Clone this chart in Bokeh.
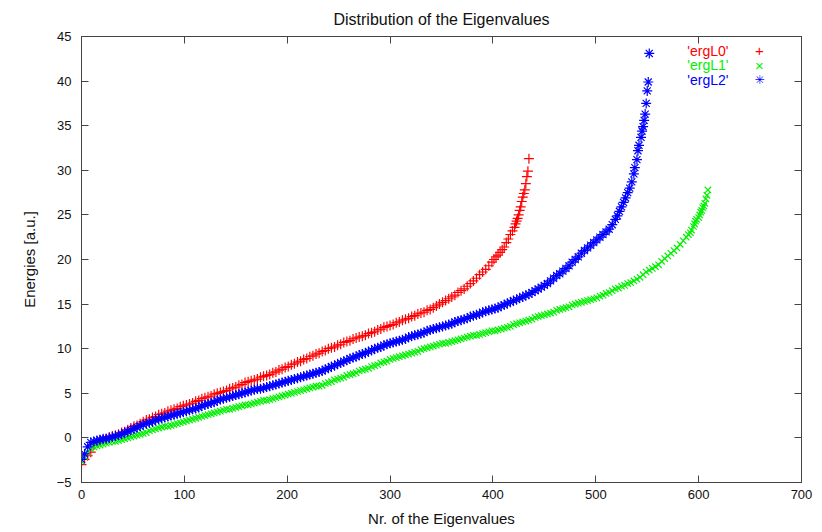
from bokeh.plotting import figure
from bokeh.models import Range1d, LinearAxis, FixedTicker, Label, CustomJSTickFormatter
from bokeh.embed import file_html
from bokeh.resources import INLINE

# ---------------- data ----------------
title_text = "Distribution of the Eigenvalues"
x_label = "Nr. of the Eigenvalues"
y_label = "Energies [a.u.]"
series_names = ["'ergL0'", "'ergL1'", "'ergL2'"]
key_symbols = ["+", "\u00d7", "\u2733"]
x_ticks = [0, 100, 200, 300, 400, 500, 600, 700]
y_ticks = [-5, 0, 5, 10, 15, 20, 25, 30, 35, 40, 45]

# eigenvalue numbers sampled along the smooth part (shared by all three sets)
idx_common = [0, 3, 6, 9, 12, 15, 18, 21, 24, 27,
              30, 33, 36, 39, 42, 45, 48, 51, 54, 57,
              60, 63, 66, 69, 72, 75, 78, 81, 84, 87,
              90, 93, 96, 99, 102, 105, 108, 111, 114, 117,
              120, 123, 126, 129, 132, 135, 138, 141, 144, 147,
              150, 153, 156, 159, 162, 165, 168, 171, 174, 177,
              180, 183, 186, 189, 192, 195, 198, 201, 204, 207,
              210, 213, 216, 219, 222, 225, 228, 231, 234, 237,
              240, 243, 246, 249, 252, 255, 258, 261, 264, 267,
              270, 273, 276, 279, 282, 285, 288, 291, 294, 297,
              300, 303, 306, 309, 312, 315, 318, 321, 324, 327,
              330, 333, 336, 339, 342, 345, 348, 351, 354, 357,
              360, 363, 366, 369, 372, 375, 378, 381, 384, 387,
              390, 393, 396, 399]
idx_mid = [402, 405, 408, 411, 414, 417, 420, 423, 426, 429,
           432, 435, 438, 441, 444, 447, 450, 453, 456, 459,
           462, 465, 468, 471, 474, 477, 480, 483, 486, 489,
           492, 495, 498, 501, 504, 507, 510, 513, 516, 519]
idx_late = [522, 525, 528, 531, 534, 537, 540, 543, 546, 549,
            552, 555, 558, 561, 564, 567, 570, 573, 576, 579,
            582, 585, 588]

# ergL0 (red)
l0_common = [-3.0, -2.4, -2.0, -1.6, -0.8, -0.5, -0.3, -0.2, -0.1, 0.1,
             0.2, 0.3, 0.4, 0.6, 0.7, 0.9, 1.1, 1.3, 1.4, 1.6,
             1.8, 2.0, 2.1, 2.3, 2.4, 2.6, 2.7, 2.8, 3.0, 3.1,
             3.2, 3.3, 3.5, 3.6, 3.7, 3.8, 3.9, 4.1, 4.2, 4.4,
             4.5, 4.6, 4.7, 4.9, 5.0, 5.1, 5.2, 5.3, 5.5, 5.6,
             5.7, 5.9, 6.0, 6.2, 6.3, 6.4, 6.5, 6.6, 6.8, 6.9,
             7.0, 7.1, 7.3, 7.4, 7.6, 7.7, 7.9, 8.0, 8.2, 8.3,
             8.5, 8.6, 8.8, 8.9, 9.1, 9.2, 9.4, 9.5, 9.7, 9.8,
             10.0, 10.1, 10.2, 10.4, 10.5, 10.7, 10.8, 10.9, 11.1, 11.2,
             11.3, 11.4, 11.5, 11.7, 11.8, 11.9, 12.1, 12.2, 12.4, 12.5,
             12.6, 12.7, 12.9, 13.0, 13.2, 13.3, 13.4, 13.6, 13.7, 13.9,
             14.0, 14.1, 14.3, 14.4, 14.6, 14.8, 15.0, 15.2, 15.4, 15.6,
             15.8, 16.0, 16.3, 16.5, 16.7, 17.0, 17.3, 17.6, 17.9, 18.3,
             18.6, 18.9, 19.3, 19.7]
l0_tail_x = [401, 403, 405, 407, 409, 411, 413, 415, 417, 419, 421, 422, 423,
             424, 425, 426, 427, 428, 429, 430, 431, 432, 433, 434, 435]
l0_tail_y = [20.0, 20.3, 20.5, 20.8, 21.1, 21.4, 21.9, 22.3, 22.8, 23.2, 23.6,
             24.0, 24.3, 24.6, 25.0, 25.5, 25.9, 26.5, 27.0, 27.4, 27.8, 28.5,
             29.3, 29.9, 31.3]

# ergL1 (green)
l1_common = [-2.6, -2.1, -1.6, -1.2, -1.0, -0.9, -0.8, -0.7, -0.6, -0.5,
             -0.4, -0.4, -0.3, -0.2, -0.1, 0.0, 0.1, 0.2, 0.3, 0.4,
             0.5, 0.6, 0.8, 0.9, 1.0, 1.1, 1.2, 1.3, 1.3, 1.4,
             1.5, 1.6, 1.7, 1.8, 1.9, 2.0, 2.1, 2.2, 2.3, 2.4,
             2.5, 2.6, 2.7, 2.8, 2.9, 3.0, 3.1, 3.2, 3.2, 3.3,
             3.4, 3.5, 3.6, 3.7, 3.7, 3.8, 3.9, 4.0, 4.1, 4.2,
             4.2, 4.3, 4.4, 4.5, 4.6, 4.7, 4.8, 4.9, 5.0, 5.1,
             5.2, 5.3, 5.4, 5.5, 5.6, 5.7, 5.8, 5.8, 5.9, 6.1,
             6.2, 6.3, 6.5, 6.6, 6.7, 6.8, 7.0, 7.1, 7.2, 7.3,
             7.5, 7.6, 7.7, 7.8, 8.0, 8.1, 8.2, 8.4, 8.5, 8.6,
             8.8, 8.9, 9.0, 9.1, 9.2, 9.3, 9.4, 9.5, 9.6, 9.7,
             9.9, 10.0, 10.1, 10.2, 10.3, 10.4, 10.5, 10.6, 10.6, 10.7,
             10.8, 10.9, 11.0, 11.1, 11.2, 11.3, 11.4, 11.5, 11.5, 11.6,
             11.7, 11.8, 11.9, 12.0]
l1_mid = [12.0, 12.1, 12.2, 12.3, 12.4, 12.5, 12.7, 12.8, 12.9, 13.0,
          13.1, 13.2, 13.3, 13.5, 13.6, 13.7, 13.8, 13.9, 14.0, 14.1,
          14.3, 14.4, 14.5, 14.6, 14.7, 14.9, 15.0, 15.1, 15.2, 15.3,
          15.4, 15.5, 15.6, 15.7, 15.9, 16.0, 16.2, 16.3, 16.5, 16.7]
l1_late = [16.8, 17.0, 17.1, 17.3, 17.4, 17.6, 17.8, 18.0, 18.3, 18.6,
           18.8, 19.0, 19.2, 19.4, 19.8, 20.1, 20.4, 20.7, 21.0, 21.3,
           21.7, 22.1, 22.5]
l1_tail_x = [590, 592, 593, 595, 596, 597, 598, 600, 601, 602, 603, 604, 605,
             606, 607, 608, 609]
l1_tail_y = [22.8, 23.0, 23.3, 23.7, 24.0, 24.3, 24.5, 24.7, 25.0, 25.3, 25.5,
             25.8, 26.0, 26.3, 26.8, 27.2, 27.8]

# ergL2 (blue)
l2_common = [-2.4, -1.8, -1.0, -0.5, -0.4, -0.3, -0.2, -0.1, -0.1, 0.0,
             0.1, 0.2, 0.3, 0.4, 0.6, 0.7, 0.9, 1.0, 1.2, 1.3,
             1.5, 1.6, 1.7, 1.8, 2.0, 2.1, 2.2, 2.3, 2.4, 2.5,
             2.6, 2.7, 2.8, 2.9, 3.0, 3.1, 3.2, 3.3, 3.4, 3.6,
             3.7, 3.8, 3.9, 4.0, 4.2, 4.3, 4.4, 4.5, 4.6, 4.7,
             4.8, 4.9, 5.0, 5.1, 5.2, 5.3, 5.4, 5.5, 5.5, 5.6,
             5.7, 5.8, 5.9, 6.0, 6.1, 6.2, 6.3, 6.4, 6.5, 6.6,
             6.7, 6.8, 6.9, 7.0, 7.1, 7.2, 7.3, 7.4, 7.5, 7.7,
             7.8, 8.0, 8.1, 8.3, 8.4, 8.6, 8.7, 8.9, 9.0, 9.1,
             9.3, 9.4, 9.5, 9.7, 9.8, 10.0, 10.1, 10.2, 10.4, 10.5,
             10.6, 10.7, 10.8, 10.9, 11.0, 11.1, 11.3, 11.4, 11.5, 11.6,
             11.7, 11.8, 12.0, 12.1, 12.2, 12.3, 12.4, 12.5, 12.6, 12.7,
             12.8, 13.0, 13.1, 13.2, 13.3, 13.4, 13.6, 13.7, 13.8, 13.9,
             14.1, 14.2, 14.3, 14.4]
l2_mid = [14.5, 14.6, 14.8, 14.9, 15.1, 15.2, 15.4, 15.5, 15.7, 15.8,
          16.0, 16.1, 16.3, 16.5, 16.7, 16.9, 17.1, 17.3, 17.6, 17.9,
          18.2, 18.4, 18.7, 19.0, 19.3, 19.7, 20.0, 20.3, 20.7, 21.0,
          21.3, 21.6, 21.9, 22.2, 22.5, 22.8, 23.1, 23.4, 23.9, 24.5]
l2_tail_x = [521, 523, 525, 527, 529, 531, 533, 535, 537, 538, 540, 541, 542,
             544, 545, 546, 547, 548, 549, 550, 551, 552]
l2_tail_y = [24.9, 25.4, 25.9, 26.4, 26.9, 27.5, 28.0, 28.7, 29.6, 30.3, 31.2,
             32.2, 32.8, 33.7, 34.4, 34.9, 35.6, 36.3, 37.5, 38.9, 39.9, 43.1]

# full series built from the pieces above
l0_x = idx_common + l0_tail_x
l0_y = l0_common + l0_tail_y
l1_x = idx_common + idx_mid + idx_late + l1_tail_x
l1_y = l1_common + l1_mid + l1_late + l1_tail_y
l2_x = idx_common + idx_mid + l2_tail_x
l2_y = l2_common + l2_mid + l2_tail_y

# ---------------- styling ----------------
FONT = "Liberation Sans"
RED, GREEN, BLUE = "#ff0000", "#00f000", "#0000ff"
TXT = "#111111"
BORDER = "#444444"

p = figure(width=822, height=532, output_backend="svg", toolbar_location=None,
           x_range=Range1d(0, 700), y_range=Range1d(-5, 45),
           min_border_left=81, min_border_right=21, min_border_top=36,
           min_border_bottom=50)
p.background_fill_color = "white"
p.border_fill_color = "white"
p.outline_line_color = BORDER
p.outline_line_width = 1
p.xgrid.visible = False
p.ygrid.visible = False

p.title.text = title_text
p.title.align = "center"
p.title.vertical_align = "top"
p.title.text_font = FONT
p.title.text_font_size = "16px"
p.title.text_font_style = "normal"
p.title.text_color = TXT
p.title.standoff = 14

for ax in (p.xaxis[0], p.yaxis[0]):
    ax.axis_line_color = BORDER
    ax.major_tick_line_color = BORDER
    ax.major_tick_in = 7
    ax.major_tick_out = 0
    ax.minor_tick_line_color = None
    ax.major_label_text_font = FONT
    ax.major_label_text_font_size = "13px"
    ax.major_label_text_color = TXT
    ax.axis_label_text_font = FONT
    ax.axis_label_text_font_size = "15px"
    ax.axis_label_text_font_style = "normal"
    ax.axis_label_text_color = TXT

p.xaxis[0].ticker = FixedTicker(ticks=x_ticks)
p.yaxis[0].ticker = FixedTicker(ticks=y_ticks)
p.xaxis[0].axis_label = x_label
p.yaxis[0].axis_label = y_label
p.xaxis[0].major_label_standoff = 7
p.yaxis[0].major_label_standoff = 10
p.xaxis[0].axis_label_standoff = 8
p.yaxis[0].axis_label_standoff = 16

blank = CustomJSTickFormatter(code="return ''")
top_ax = LinearAxis(ticker=FixedTicker(ticks=x_ticks), formatter=blank)
right_ax = LinearAxis(ticker=FixedTicker(ticks=y_ticks), formatter=blank)
for ax in (top_ax, right_ax):
    ax.axis_line_color = BORDER
    ax.major_tick_line_color = BORDER
    ax.major_tick_in = 7
    ax.major_tick_out = 0
    ax.minor_tick_line_color = None
    ax.major_label_standoff = 0
p.add_layout(top_ax, "above")
p.add_layout(right_ax, "right")

p.scatter(l0_x, l0_y, marker="cross", size=10, line_color=RED, line_width=1.2)
p.scatter(l1_x, l1_y, marker="x", size=9, line_color=GREEN, line_width=1.2)
p.scatter(l2_x, l2_y, marker="asterisk", size=10, line_color=BLUE, line_width=1.2)

# gnuplot-style key: text then symbol, top right
colors = [RED, GREEN, BLUE]
rows = [432, 417.5, 403]
sym_fonts = ["Liberation Sans", "Liberation Sans", "DejaVu Sans"]
sym_sizes = ["15px", "15px", "12px"]
for name, sym, col, yy, sf, ss in zip(series_names, key_symbols, colors, rows,
                                      sym_fonts, sym_sizes):
    p.add_layout(Label(x=647, y=yy, x_units="screen", y_units="screen", text=name,
                       text_align="right", text_baseline="middle", text_font=FONT,
                       text_font_size="14px", text_color=col))
    p.add_layout(Label(x=678, y=yy, x_units="screen", y_units="screen", text=sym,
                       text_align="center", text_baseline="middle", text_font=sf,
                       text_font_size=ss, text_color=col))

open("out.html", "w").write(file_html(p, INLINE))
